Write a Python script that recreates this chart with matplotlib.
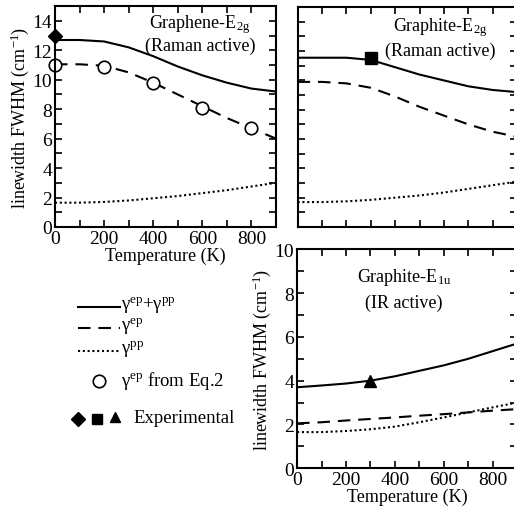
import matplotlib
matplotlib.use("Agg")
import matplotlib.pyplot as plt
import numpy as np
from matplotlib.lines import Line2D

plt.rcParams['font.family'] = ['Liberation Serif', 'DejaVu Serif']
plt.rcParams['mathtext.fontset'] = 'custom'
plt.rcParams['mathtext.rm'] = 'Liberation Serif'
plt.rcParams['mathtext.it'] = 'Liberation Serif:italic'
plt.rcParams['font.size'] = 13

#%% data
temp = [0, 100, 200, 300, 400, 500, 600, 700, 800, 900]

# Graphene E2g
gr_total = [12.7, 12.7, 12.6, 12.2, 11.6, 10.9, 10.3, 9.8, 9.4, 9.2]
gr_ep = [11.05, 11.05, 10.95, 10.5, 9.8, 9.0, 8.2, 7.4, 6.7, 6.0]
gr_pp = [1.65, 1.65, 1.7, 1.8, 1.95, 2.1, 2.3, 2.5, 2.75, 3.0]
gr_eq2_t = [0, 200, 400, 600, 800]
gr_eq2 = [11.0, 10.9, 9.8, 8.1, 6.7]
gr_exp = (0, 13.0)

# Graphite E2g
gt_total = [11.55, 11.55, 11.55, 11.4, 10.9, 10.4, 10.0, 9.6, 9.35, 9.2]
gt_ep = [9.9, 9.9, 9.8, 9.5, 8.9, 8.2, 7.6, 7.0, 6.5, 6.15]
gt_pp = [1.7, 1.7, 1.75, 1.85, 2.0, 2.15, 2.35, 2.6, 2.85, 3.1]
gt_exp = (300, 11.5)

# Graphite E1u
ir_total = [3.7, 3.78, 3.87, 4.0, 4.2, 4.45, 4.7, 5.0, 5.35, 5.7]
ir_ep = [2.05, 2.1, 2.18, 2.25, 2.32, 2.4, 2.47, 2.55, 2.63, 2.7]
ir_pp = [1.65, 1.65, 1.7, 1.78, 1.9, 2.1, 2.32, 2.55, 2.78, 3.0]
ir_exp = (300, 4.0)

#%% figure
fig = plt.figure(figsize=(5.14, 5.10), dpi=100)
ax1 = fig.add_axes([0.107, 0.553, 0.430, 0.433])
ax2 = fig.add_axes([0.579, 0.553, 0.427, 0.431])
ax3 = fig.add_axes([0.578, 0.080, 0.428, 0.429])

dash = (0, (6, 3.8))
dot = (0, (1, 1.3))
lw = 1.5

def style(ax, ymax):
    ax.set_xlim(0, 900)
    ax.set_ylim(0, ymax)
    ax.set_xticks(range(0, 900, 200))
    ax.set_xticks(range(0, 901, 100), minor=True)
    ax.set_yticks(range(0, int(ymax) + 1, 2))
    ax.set_yticks(range(0, int(ymax) + 1), minor=True)
    ax.set_ylim(0, ymax)
    ax.tick_params(which='both', direction='in', top=True, right=True,
                   width=1.2, length=5, labelsize=14, pad=2)
    for s in ax.spines.values():
        s.set_linewidth(1.5)

# graphene
ax1.plot(temp, gr_total, 'k-', lw=lw)
ax1.plot(temp, gr_ep, 'k', ls=dash, lw=lw)
ax1.plot(temp, gr_pp, 'k', ls=dot, lw=lw)
ax1.plot(gr_eq2_t, gr_eq2, 'o', mfc='white', mec='k', ms=9, mew=1.2, clip_on=False)
ax1.plot(*gr_exp, 'D', color='k', ms=7.5, clip_on=False, zorder=5)
style(ax1, 15)
ax1.set_yticks(range(0, 15, 2))
ax1.set_xlabel('Temperature (K)', labelpad=0)
ax1.set_ylabel('linewidth FWHM (cm$^{-1}$)', labelpad=1)
ax1.text(590, 13.85, 'Graphene-E$_{\\rm 2g}$', ha='center', va='center', fontsize=13)
ax1.text(590, 12.35, '(Raman active)', ha='center', va='center', fontsize=13)

# graphite E2g
ax2.plot(temp, gt_total, 'k-', lw=lw)
ax2.plot(temp, gt_ep, 'k', ls=dash, lw=lw)
ax2.plot(temp, gt_pp, 'k', ls=dot, lw=lw)
ax2.plot(*gt_exp, 's', color='k', ms=8, zorder=5)
style(ax2, 15)
ax2.tick_params(labelleft=False, labelbottom=False)
ax2.text(583, 13.65, 'Graphite-E$_{\\rm 2g}$', ha='center', va='center', fontsize=13)
ax2.text(583, 12.05, '(Raman active)', ha='center', va='center', fontsize=13)

# graphite E1u
ax3.plot(temp, ir_total, 'k-', lw=lw)
ax3.plot(temp, ir_ep, 'k', ls=dash, lw=lw)
ax3.plot(temp, ir_pp, 'k', ls=dot, lw=lw)
ax3.plot(*ir_exp, '^', color='k', ms=8, zorder=5)
style(ax3, 10)
ax3.set_xlabel('Temperature (K)', labelpad=0)
ax3.set_ylabel('linewidth FWHM (cm$^{-1}$)', labelpad=1)
ax3.text(437, 8.75, 'Graphite-E$_{\\rm 1u}$', ha='center', va='center', fontsize=13)
ax3.text(437, 7.6, '(IR active)', ha='center', va='center', fontsize=13)

#%% legend, drawn in an overlay axes with pixel units
lg = fig.add_axes([0, 0, 1, 1])
lg.set_xlim(0, 514)
lg.set_ylim(510, 0)
lg.axis('off')
lg.add_line(Line2D([78, 120], [308, 308], color='k', lw=lw))
lg.add_line(Line2D([78, 120], [329, 329], color='k', lw=lw, ls=dash))
lg.add_line(Line2D([78, 120], [352, 352], color='k', lw=lw, ls=dot))
lg.plot([99], [382], 'o', mfc='white', mec='k', ms=9, mew=1.2)
lg.plot([78], [420], 'D', color='k', ms=7)
lg.plot([97], [420], 's', color='k', ms=7)
lg.plot([115], [418], '^', color='k', ms=7)
lg.text(121, 306, 'γ$^{\\rm ep}$+γ$^{\\rm pp}$', va='center', ha='left', fontsize=13.5)
lg.text(121, 327, 'γ$^{\\rm ep}$', va='center', ha='left', fontsize=13.5)
lg.text(121, 350, 'γ$^{\\rm pp}$', va='center', ha='left', fontsize=13.5)
lg.text(121, 381, 'γ$^{\\rm ep}$ from Eq.2', va='center', ha='left', fontsize=13.5)
lg.text(133, 419, 'Experimental', va='center', ha='left', fontsize=13.5)

fig.savefig('out.png', dpi=100)
